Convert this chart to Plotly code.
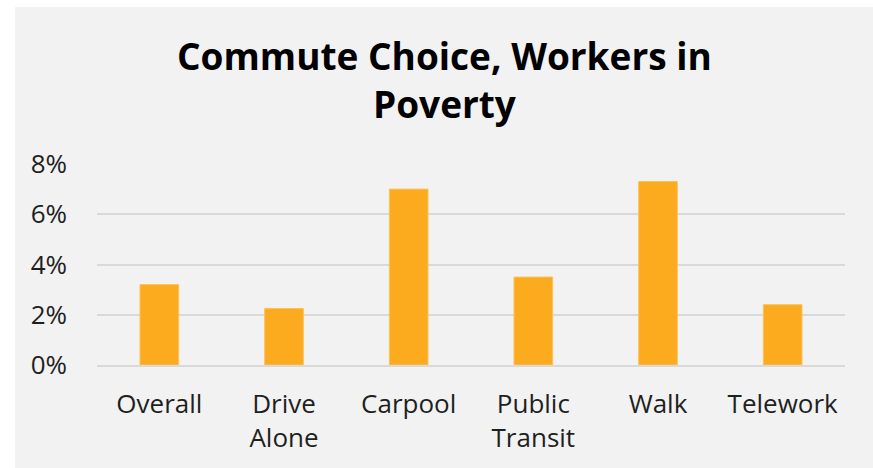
import plotly.graph_objects as go

categories = ["Overall", "Drive<br>Alone", "Carpool", "Public<br>Transit", "Walk", "Telework"]
values = [0.032, 0.0225, 0.070, 0.035, 0.073, 0.024]
tick_vals = [0, 0.02, 0.04, 0.06, 0.08]
tick_text = ["0%", "2%", "4%", "6%", "8%"]
title_text = "<b>Commute Choice, Workers in<br>Poverty</b>"

fig = go.Figure(go.Bar(
    x=categories, y=values,
    marker=dict(color="#FBAB1D", line=dict(color="#FCC15A", width=1)),
))

fig.update_layout(
    width=873, height=468,
    margin=dict(l=97, r=28, t=164, b=103),
    paper_bgcolor="white",
    plot_bgcolor="rgba(0,0,0,0)",
    bargap=0.69,
    showlegend=False,
    font=dict(family="Open Sans", color="#1F1F1F", size=26),
    annotations=[dict(
        text=title_text, showarrow=False,
        xref="paper", yref="paper",
        x=(444 - 97) / 748, xanchor="center",
        y=(365 - 80) / 201, yanchor="middle",
        font=dict(family="Open Sans", size=37, color="#000000"),
    )],
    shapes=[dict(
        type="rect", xref="paper", yref="paper",
        x0=(15 - 97) / 748, x1=(873 - 97) / 748 + 0.01,
        y0=-103 / 201 - 0.01, y1=(468 - 7 - 103) / 201,
        fillcolor="#F2F2F2", line=dict(width=0), layer="below",
    )],
)
fig.update_yaxes(
    range=[0, 0.08], tickvals=tick_vals, ticktext=tick_text,
    showgrid=True, gridcolor="#D9D9D9", gridwidth=1.5,
    zeroline=False, showline=False, ticks="", ticklabelstandoff=29,
)
fig.update_xaxes(
    showline=True, linecolor="#D9D9D9", linewidth=1.5,
    ticks="", ticklabelstandoff=15,
)

fig.write_html(
    "out.html",
    config={"displayModeBar": False},
    post_script="document.body.style.margin='0';document.body.style.overflow='hidden';",
)
